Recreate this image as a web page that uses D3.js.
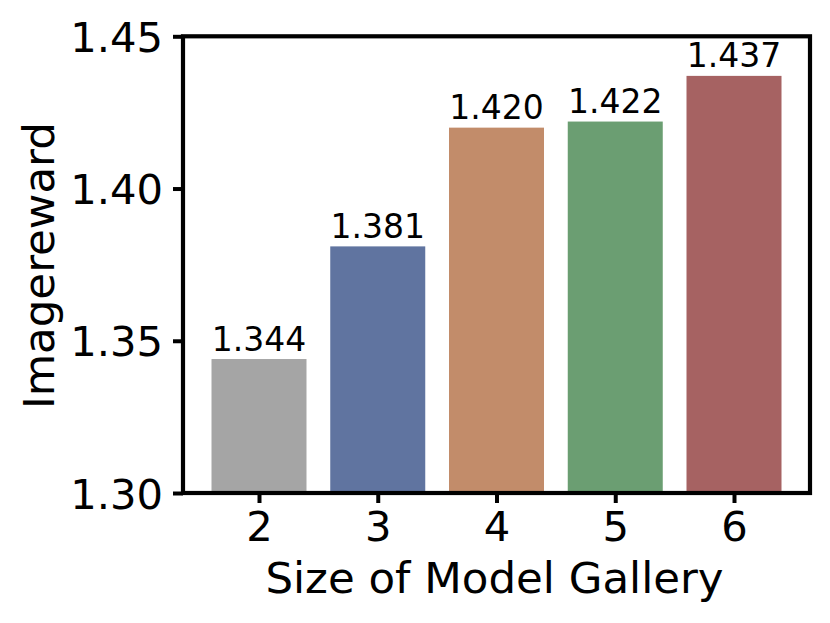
<!DOCTYPE html>
<html>
<head>
<meta charset="utf-8">
<script src="https://cdn.jsdelivr.net/npm/d3@7"></script>
<style>
  html, body { margin: 0; padding: 0; background: #fff; }
  svg { display: block; }
  text { font-family: "DejaVu Sans", sans-serif; fill: #000; }
</style>
</head>
<body>
<svg id="chart" width="830" height="623"></svg>
<script>
const categories = ["2", "3", "4", "5", "6"];
const values = [1.344, 1.381, 1.420, 1.422, 1.437];
const valueLabels = ["1.344", "1.381", "1.420", "1.422", "1.437"];
const colors = ["#a5a5a5", "#6074a0", "#c28c6a", "#6b9e72", "#a66262"];
const yTicks = [1.30, 1.35, 1.40, 1.45];
const yTickLabels = ["1.30", "1.35", "1.40", "1.45"];
const xTitle = "Size of Model Gallery";
const yTitle = "Imagereward";

(function () {
const svg = d3.select("#chart");
const pL = 183, pR = 810, pT = 36.3, pB = 493;

const x = d3.scaleLinear().domain([-0.64, categories.length - 1 + 0.64]).range([pL, pR]);
const y = d3.scaleLinear().domain([1.30, 1.45]).range([pB, pT]);
const barW = x(0.8) - x(0);

// bars
svg.append("g").selectAll("rect").data(values).join("rect")
  .attr("x", (d, i) => x(i) - barW / 2)
  .attr("y", d => y(d))
  .attr("width", barW)
  .attr("height", d => y(1.30) - y(d))
  .attr("fill", (d, i) => colors[i]);

// bar labels
svg.append("g").selectAll("text").data(values).join("text")
  .attr("x", (d, i) => x(i))
  .attr("y", d => y(d) - 8.5)
  .attr("text-anchor", "middle")
  .style("font-size", "33px")
  .text((d, i) => valueLabels[i]);

// y axis
const yAxis = d3.axisLeft(y).tickValues(yTicks)
  .tickFormat((d, i) => yTickLabels[i]).tickSize(10).tickPadding(10);
const gy = svg.append("g").attr("transform", `translate(${pL},0)`).call(yAxis);
gy.select(".domain").remove();
gy.selectAll(".tick line").attr("stroke", "#000").attr("stroke-width", 4);
gy.selectAll(".tick text").style("font-size", "41.7px").attr("dy", "0.36em");

// x axis
const xAxis = d3.axisBottom(x).tickValues(d3.range(categories.length))
  .tickFormat((d, i) => categories[i]).tickSize(10).tickPadding(8);
const gx = svg.append("g").attr("transform", `translate(0,${pB})`).call(xAxis);
gx.select(".domain").remove();
gx.selectAll(".tick line").attr("stroke", "#000").attr("stroke-width", 4);
gx.selectAll(".tick text").style("font-size", "41.7px");

// frame
svg.append("rect")
  .attr("x", pL).attr("y", pT)
  .attr("width", pR - pL).attr("height", pB - pT)
  .attr("fill", "none").attr("stroke", "#000").attr("stroke-width", 4.2);

// axis titles
svg.append("text")
  .attr("x", (pL + pR) / 2 - 2).attr("y", 593)
  .attr("text-anchor", "middle")
  .style("font-size", "43.5px")
  .text(xTitle);

svg.append("text")
  .attr("transform", `translate(54,${(pT + pB) / 2 + 1}) rotate(-90)`)
  .attr("text-anchor", "middle")
  .style("font-size", "43.5px")
  .text(yTitle);
})();
</script>
</body>
</html>
